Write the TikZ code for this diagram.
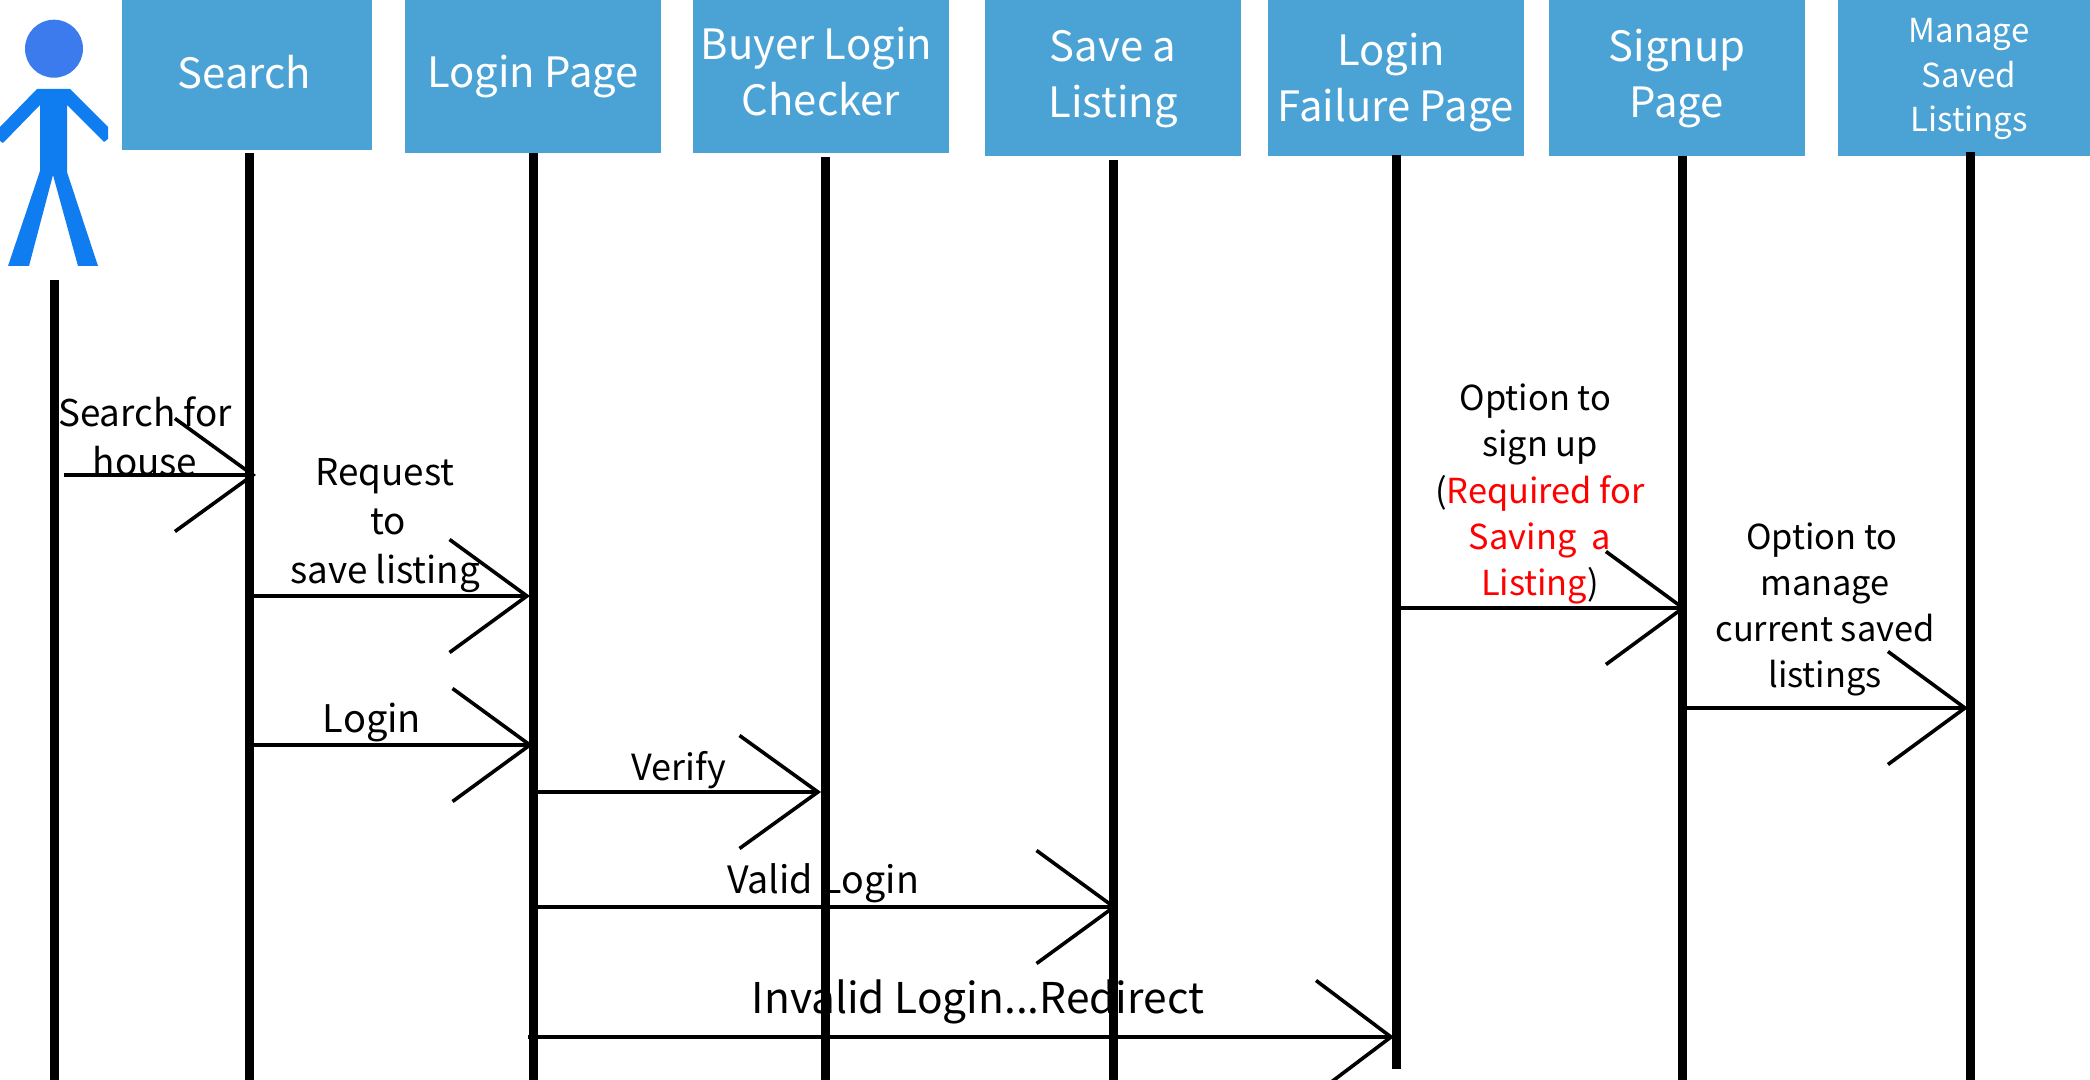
\documentclass[tikz,border=0pt]{standalone}
\usepackage{fontspec}
\setmainfont{Noto Sans CJK SC}
\usetikzlibrary{arrows.meta}
\definecolor{boxblue}{HTML}{4BA3D5}
\definecolor{headblue}{HTML}{3B7BEE}
\definecolor{bodyblue}{HTML}{0F7CEF}
\tikzset{
    lifebox/.style={fill=boxblue, text=white, inner sep=0pt, anchor=north, align=center, minimum width=128pt,
        font=\fontsize{20.9}{28}\selectfont},
    lifeline/.style={line width=4.5pt},
    msg/.style={line width=1.8pt, -{Straight Barb[length=#1, width=56.5pt, line width=1.8pt]}},
    msgtext/.style={inner sep=0pt, align=center, font=\fontsize{18.4}{24.6}\selectfont},
    smalltext/.style={inner sep=0pt, align=center, font=\fontsize{17.2}{23.15}\selectfont}
}
\begin{document}
\begin{tikzpicture}[x=0.5pt, y=-0.5pt]
    \useasboundingbox (0,0) rectangle (2090,1080);

    % actor
    \fill[headblue] (54,48.7) circle (29);
    \fill[bodyblue] (37,89) -- (70,89) -- (108,127) -- (108,139) -- (104,142) -- (67,105) -- (67,172)
        -- (98,266) -- (78,266) -- (53,175) -- (29,266) -- (8,266) -- (40,171) -- (40,105)
        -- (3,143) -- (0,141) -- (0,127) -- cycle;

    % header boxes
    \node[lifebox, minimum width=125pt, minimum height=75pt] (search) at (247,0) {\rule[-4pt]{0pt}{1pt}Search\kern2.7pt};
    \node[lifebox, minimum height=76.5pt] (loginpage) at (533,0) {Login Page};
    \node[lifebox, minimum height=76.5pt] (checker) at (821,0) {Buyer Login\kern4.6pt\\Checker\rule[-5.3pt]{0pt}{1pt}};
    \node[lifebox, minimum height=78pt] (save) at (1113,0) {\rule{0pt}{16.5pt}Save a\\Listing};
    \node[lifebox, minimum height=78pt] (failure) at (1396,0) {\rule{0pt}{20pt}Login\kern4.6pt\\Failure Page};
    \node[lifebox, minimum height=78pt] (signup) at (1677,0) {\rule{0pt}{16.5pt}Signup\\Page};
    \node[lifebox, minimum width=131pt, minimum height=78pt, font=\fontsize{16.5}{22.3}\selectfont] (manage) at (1969,0) {\rule{0pt}{13pt}Manage\\Saved\\Listings};

    % lifelines
    \foreach \n/\x/\t/\b in {actor/54/280/1080, search/249.5/153/1080, loginpage/533/153/1080, checker/825/157/1080,
        save/1113/160/1080, failure/1396/155/1069, signup/1682/156/1080, manage/1970.5/152/1080} {
        \coordinate (\n top) at (\x,\t);
        \coordinate (\n bot) at (\x,\b);
        \draw[lifeline] (\n top) -- (\n bot);
    }

    % messages
    \foreach \i/\a/\b/\y/\h in {1/64/256/475/39pt, 2/251/530/596/38.7pt, 3/251/533/745/38.7pt, 4/536/821/792/39.2pt,
        5/536/1117/907/38.7pt, 6/528/1394/1037/37.5pt, 7/1397/1686/608/38.5pt, 8/1685/1968/708/38.5pt} {
        \coordinate (m\i from) at (\a,\y);
        \coordinate (m\i to) at (\b,\y);
        \draw[msg=\h] (m\i from) -- (m\i to);
    }

    % labels
    \node[msgtext] (searchhouse) at (145,436) {Search for\\house};
    \node[msgtext] (request) at (385,525.5) {Request\\\kern3pt to\\save listing};
    \node[msgtext, font=\fontsize{19}{24}\selectfont] (login) at (372,722.5) {Login};
    \node[msgtext, font=\fontsize{18}{24}\selectfont] (verify) at (679,770) {Verify};
    \node[msgtext, font=\fontsize{18.8}{24}\selectfont] (valid) at (823,883) {Valid Login};
    \node[msgtext, font=\fontsize{21.2}{24}\selectfont] (invalid) at (978,1002) {Invalid Login...Redirect};
    \node[smalltext] (signupopt) at (1540,494) {Option to\kern4.5pt\\sign up\\(\textcolor{red}{Required for}\\\textcolor{red}{Saving~~a}\\\textcolor{red}{Listing})};
    \node[smalltext] (manageopt) at (1825,609.5) {Option to\kern3pt\\manage\\current saved\\listings};
\end{tikzpicture}
\end{document}
